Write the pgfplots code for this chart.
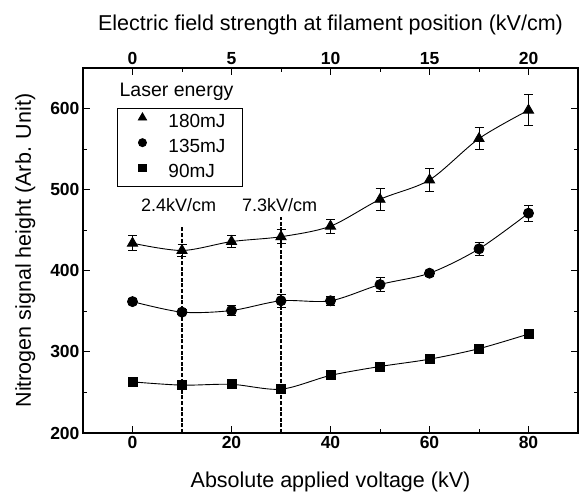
\documentclass[border=0pt]{standalone}
\usepackage{pgfplots}
\pgfplotsset{compat=1.18}
\usepackage{fontspec}
\setmainfont{Liberation Sans}

\pgfplotstableread{
x y e
0 434 9
10 425 7.6
20 436 7.4
30 442 8.8
40 455 8.6
50 488 13.6
60 512 13.8
70 563 13.6
80 598 19
}\dataA
\pgfplotstableread{
x y e
0 362 4
10 349 3
20 351 6
30 363 7.6
40 363 5.8
50 383 9
60 397 4
70 427 7.6
80 471 10
}\dataB
\pgfplotstableread{
x y e
0 263 3
10 259 3
20 260 3
30 254 3
40 271 3
50 282 3
60 291 3
70 304 3
80 322 3
}\dataC

\begin{document}
\begin{tikzpicture}
\begin{axis}[
  name=main,
  scale only axis, width=495pt, height=365pt,
  xmin=-10, xmax=90, ymin=200, ymax=650,
  xtick={0,20,...,80}, minor xtick={10,30,50,70},
  ytick={200,300,...,600}, minor ytick={250,350,...,650},
  xtick pos=left, ytick pos=both,
  major tick length=7pt, minor tick length=4pt,
  tick style={black, line width=0.9pt},
  axis line style={line width=1.1pt},
  tick label style={font=\bfseries\fontsize{17.5}{20}\selectfont},
  label style={font=\fontsize{21.5}{24}\selectfont},
  xlabel={Absolute applied voltage (kV)},
  ylabel={Nitrogen signal height (Arb. Unit)},
  xlabel style={yshift=-16pt},
  ylabel style={yshift=8pt},
  /pgf/number format/assume math mode=true,
  legend cell align=left,
  legend style={at={(rel axis cs:0.0687,0.8904)}, anchor=north west,
    draw=black, line width=0.9pt, font=\fontsize{19}{21}\selectfont,
    inner xsep=8pt, inner ysep=4.5pt, row sep=7pt,
    nodes={inner sep=0pt, text height=14pt, text depth=4pt}},
  legend image code/.code={\draw[mark repeat=2,mark phase=2,#1] plot coordinates {(0pt,5pt) (17pt,5pt) (34pt,5pt)}; \path[draw=none] (0pt,0pt) -- (43pt,0pt);},
  every axis plot/.append style={line width=0.9pt},
  error bars/error bar style={line width=0.9pt},
  error bars/error mark options={rotate=90, mark size=4.5pt, line width=0.9pt},
]
\addlegendimage{black, only marks, mark=triangle*, mark size=4.7pt}
\addlegendentry{\makebox[66pt][l]{180mJ}}
\addlegendimage{black, only marks, mark=*, mark size=4pt}
\addlegendentry{\makebox[66pt][l]{135mJ}}
\addlegendimage{black, only marks, mark=square*, mark size=3.7pt}
\addlegendentry{\makebox[66pt][l]{90mJ}}
\addplot[black, smooth, mark=triangle*, mark size=5.8pt, mark options={solid}, forget plot,
  error bars/.cd, y dir=both, y explicit]
  table[x=x, y=y, y error=e] {\dataA};
\addplot[black, smooth, mark=*, mark size=5pt, forget plot,
  error bars/.cd, y dir=both, y explicit]
  table[x=x, y=y, y error=e] {\dataB};
\addplot[black, smooth, mark=square*, mark size=4.5pt, forget plot,
  error bars/.cd, y dir=both, y explicit]
  table[x=x, y=y, y error=e] {\dataC};
\addplot[black, line width=1.4pt, dash pattern=on 4pt off 1.6pt, forget plot] coordinates {(10,200) (10,455)};
\addplot[black, line width=1.4pt, dash pattern=on 4pt off 1.6pt, forget plot] coordinates {(30,200) (30,466)};
\node[font=\fontsize{18}{20}\selectfont] at (axis cs:9.3,481) {2.4kV/cm};
\node[font=\fontsize{18}{20}\selectfont] at (axis cs:29.7,481) {7.3kV/cm};
\node[font=\fontsize{19.5}{21}\selectfont] at (axis cs:8.9,621) {Laser energy};
\end{axis}
\begin{axis}[
  scale only axis, width=495pt, height=365pt,
  xmin=-2.5, xmax=22.5, ymin=200, ymax=650,
  axis x line*=top, hide y axis,
  xtick={0,5,...,20}, minor xtick={2.5,7.5,12.5,17.5},
  major tick length=7pt, minor tick length=4pt,
  tick style={black, line width=0.9pt},
  axis line style={line width=1.1pt},
  tick label style={font=\bfseries\fontsize{17.5}{20}\selectfont},
  label style={font=\fontsize{21.5}{24}\selectfont},
  xlabel={Electric field strength at filament position (kV/cm)},
  xlabel style={yshift=10pt},
  /pgf/number format/assume math mode=true,
]
\end{axis}
\pgfresetboundingbox
\path (main.south west) ++(-83pt,-64pt) rectangle ++(583pt,497pt);
\end{tikzpicture}
\end{document}
